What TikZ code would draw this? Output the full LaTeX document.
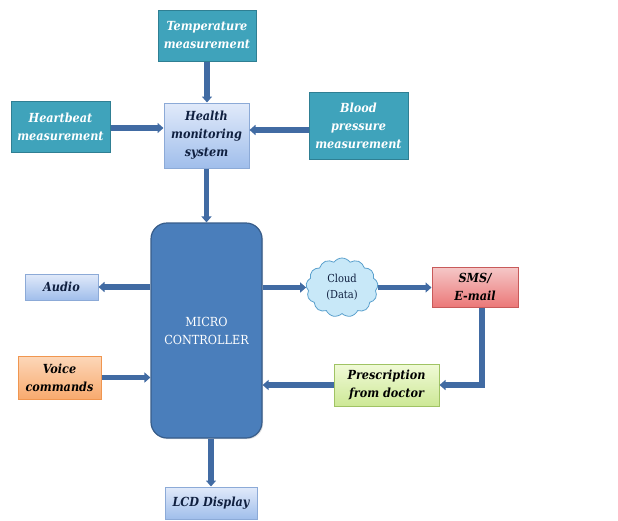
\documentclass[tikz,border=0pt]{standalone}
\usepackage{fontspec}
\setmainfont{DejaVu Serif Condensed}
\usetikzlibrary{arrows.meta,shapes.symbols,shadows}
\definecolor{teal1}{HTML}{3FA3BB}
\definecolor{teal2}{HTML}{2F7F93}
\definecolor{arrc}{HTML}{416BA3}
\definecolor{mcfill}{HTML}{4A7EBB}
\definecolor{mcdraw}{HTML}{385D8A}
\definecolor{navy}{HTML}{0F1F3F}
\tikzset{
  base/.style={draw, line width=1pt, align=center, inner sep=2pt,
    font=\fontsize{12.5}{18}\selectfont\bfseries\itshape,
    drop shadow={opacity=0.25, shadow xshift=1.2pt, shadow yshift=-1.2pt}},
  tealbox/.style={base, fill=teal1, draw=teal2, text=white},
  bluebox/.style={base, draw={rgb,255:red,140;green,170;blue,215}, top color={rgb,255:red,225;green,234;blue,250}, bottom color={rgb,255:red,160;green,190;blue,235}, text=navy},
  orangebox/.style={base, draw={rgb,255:red,240;green,150;blue,80}, top color={rgb,255:red,252;green,215;blue,185}, bottom color={rgb,255:red,248;green,170;blue,110}, text=black},
  redbox/.style={base, draw={rgb,255:red,200;green,90;blue,90}, top color={rgb,255:red,245;green,200;blue,200}, bottom color={rgb,255:red,235;green,120;blue,120}, text=black},
  greenbox/.style={base, draw={rgb,255:red,160;green,195;blue,100}, top color={rgb,255:red,240;green,250;blue,215}, bottom color={rgb,255:red,205;green,232;blue,150}, text=black},
  arr/.style={draw=arrc, line width=5.5pt, -{Triangle[width=10pt,length=6pt]}},
}
\begin{document}
\begin{tikzpicture}[x=1pt,y=-1pt]
\useasboundingbox (0,0) rectangle (618,520);
\fill[white] (0,0) rectangle (618,520);
\node[tealbox, minimum width=98pt, minimum height=51pt] (temp) at (207,35.5) {Temperature\\measurement};
\node[tealbox, minimum width=99pt, minimum height=51pt] (heart) at (60.5,126.5) {Heartbeat\\measurement};
\node[bluebox, minimum width=85pt, minimum height=65pt] (health) at (206.5,135.5) {Health\\monitoring\\system};
\node[tealbox, minimum width=99pt, minimum height=67pt] (bp) at (358.5,125.5) {Blood\\pressure\\measurement};
\node[draw=mcdraw, line width=1.2pt, fill=mcfill, rounded corners=16pt, minimum width=111pt, minimum height=215pt, text=white, align=center, font=\fontsize{12.5}{18}\selectfont, drop shadow={opacity=0.25, shadow xshift=1.2pt, shadow yshift=-1.2pt}] (mc) at (206.5,330.5) {MICRO\\CONTROLLER};
\node[bluebox, minimum width=73pt, minimum height=26pt] (audio) at (61.5,287) {Audio};
\node[orangebox, minimum width=83pt, minimum height=43pt] (voice) at (59.5,377.5) {Voice\\commands};
\node[cloud, cloud puffs=13, cloud puff arc=110, aspect=1.3, draw={rgb,255:red,90;green,160;blue,205}, line width=0.8pt, fill={rgb,255:red,200;green,232;blue,248}, minimum width=72pt, minimum height=59pt, inner sep=0pt, align=center, font=\fontsize{11}{16}\selectfont, text=navy] (cloud) at (342,287.5) {Cloud\\(Data)};
\node[redbox, minimum width=86pt, minimum height=40pt] (sms) at (475,287) {SMS/\\E-mail};
\node[greenbox, minimum width=105pt, minimum height=42pt] (presc) at (386.5,385) {Prescription\\from doctor};
\node[bluebox, minimum width=92pt, minimum height=32pt] (lcd) at (211,503) {LCD Display};
\draw[arr] (temp.south) -- (temp.south |- health.north);
\draw[arr] (heart.east |- 0,128) -- (health.west |- 0,128);
\draw[arr] (bp.west |- 0,130) -- (health.east |- 0,130);
\draw[arr] (health.south) -- (health.south |- mc.north);
\draw[arr] (audio.east -| mc.west) -- (audio.east);
\draw[arr] (voice.east) -- (voice.east -| mc.west);
\draw[arr] (cloud.west -| mc.east) -- (cloud.west);
\draw[arr] (cloud.east) -- (cloud.east -| sms.west);
\draw[arr] ([xshift=7pt]sms.south) |- (presc.east);
\draw[arr] (presc.west) -- (presc.west -| mc.east);
\draw[arr] (lcd.north |- mc.south) -- (lcd.north);
\end{tikzpicture}
\end{document}
